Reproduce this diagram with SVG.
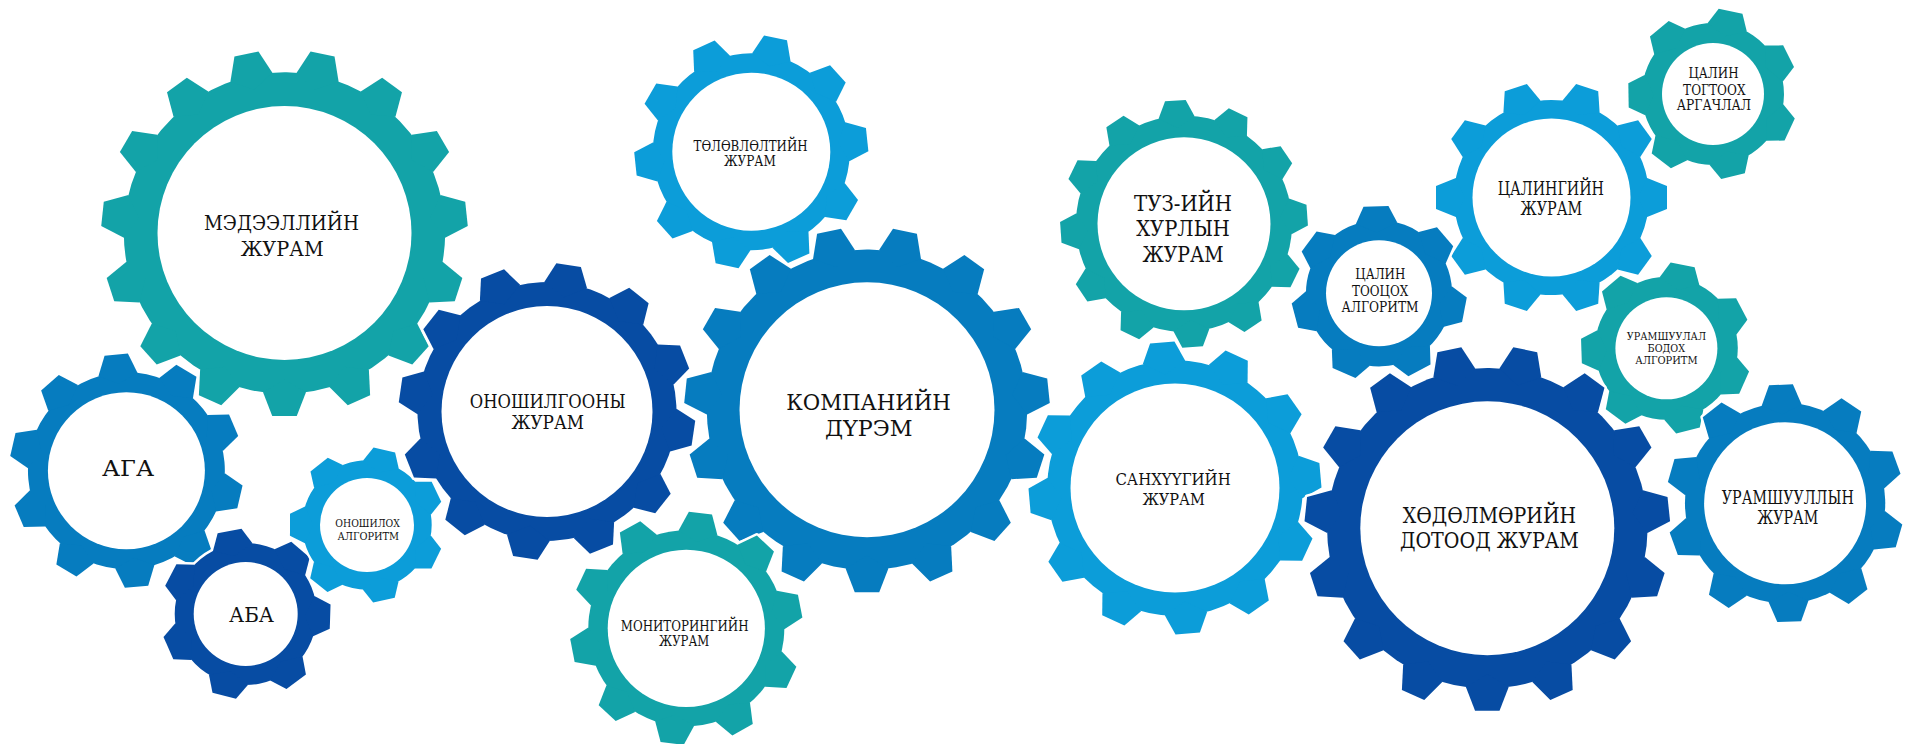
<svg xmlns="http://www.w3.org/2000/svg" xmlns:xlink="http://www.w3.org/1999/xlink" width="1905" height="744" viewBox="0 0 1905 744">
<style>
.halo{fill:#fff;stroke:#fff;stroke-linejoin:round}
.teal{fill:#13a3a8}
.mid{fill:#067cbf}
.dark{fill:#074ca3}
.light{fill:#0c9dd9}
.hole{fill:#fff}
.lbl{font-family:"DejaVu Serif","Liberation Serif",serif;fill:#111}
</style>
<defs>
<polygon id="t15" points="-11.73,-87.01 -6.7,-100 6.7,-100 11.73,-87.01 0,-80"/>
<polygon id="t12" points="-14.6,-86.28 -8.38,-100 8.38,-100 14.6,-86.28 0,-78"/>
<polygon id="t10" points="-16.87,-82.8 -10.05,-100 10.05,-100 16.87,-82.8 0,-75"/>
<polygon id="t7" points="-23.8,-80.56 -14.36,-100 14.36,-100 23.8,-80.56 0,-70"/>
<g id="g15"><circle r="87.8"/>
<use href="#t15"/><use href="#t15" transform="rotate(24)"/><use href="#t15" transform="rotate(48)"/><use href="#t15" transform="rotate(72)"/><use href="#t15" transform="rotate(96)"/><use href="#t15" transform="rotate(120)"/><use href="#t15" transform="rotate(144)"/><use href="#t15" transform="rotate(168)"/><use href="#t15" transform="rotate(192)"/><use href="#t15" transform="rotate(216)"/><use href="#t15" transform="rotate(240)"/><use href="#t15" transform="rotate(264)"/><use href="#t15" transform="rotate(288)"/><use href="#t15" transform="rotate(312)"/><use href="#t15" transform="rotate(336)"/>
</g>
<g id="g12"><circle r="87.5"/>
<use href="#t12"/><use href="#t12" transform="rotate(30)"/><use href="#t12" transform="rotate(60)"/><use href="#t12" transform="rotate(90)"/><use href="#t12" transform="rotate(120)"/><use href="#t12" transform="rotate(150)"/><use href="#t12" transform="rotate(180)"/><use href="#t12" transform="rotate(210)"/><use href="#t12" transform="rotate(240)"/><use href="#t12" transform="rotate(270)"/><use href="#t12" transform="rotate(300)"/><use href="#t12" transform="rotate(330)"/>
</g>
<g id="g10"><circle r="84.5"/>
<use href="#t10"/><use href="#t10" transform="rotate(36)"/><use href="#t10" transform="rotate(72)"/><use href="#t10" transform="rotate(108)"/><use href="#t10" transform="rotate(144)"/><use href="#t10" transform="rotate(180)"/><use href="#t10" transform="rotate(216)"/><use href="#t10" transform="rotate(252)"/><use href="#t10" transform="rotate(288)"/><use href="#t10" transform="rotate(324)"/>
</g>
<g id="g7"><circle r="84"/>
<use href="#t7"/><use href="#t7" transform="rotate(51.43)"/><use href="#t7" transform="rotate(102.86)"/><use href="#t7" transform="rotate(154.29)"/><use href="#t7" transform="rotate(205.71)"/><use href="#t7" transform="rotate(257.14)"/><use href="#t7" transform="rotate(308.57)"/>
</g>
</defs>
<rect width="1905" height="744" fill="#fff"/>
<g id="connectors"/>

<g id="n-medeelliin">
<use href="#g15" class="halo" stroke-width="2.7" transform="translate(284.5,233) rotate(12) scale(1.83)"/>
<use href="#g15" class="teal" transform="translate(284.5,233) rotate(12) scale(1.83)"/>
<circle class="hole" cx="284.5" cy="233" r="127"/>
<text class="lbl" font-size="21" x="204" y="230" textLength="155" lengthAdjust="spacingAndGlyphs">МЭДЭЭЛЛИЙН</text>
<text class="lbl" font-size="21" x="240.7" y="256" textLength="83" lengthAdjust="spacingAndGlyphs">ЖУРАМ</text>
</g>

<g id="n-aga">
<use href="#g10" class="halo" stroke-width="4.3" transform="translate(126.4,470.7) rotate(-5) scale(1.165)"/>
<use href="#g10" class="mid" transform="translate(126.4,470.7) rotate(-5) scale(1.165)"/>
<circle class="hole" cx="126.4" cy="470.7" r="78.5"/>
<text class="lbl" font-size="23" x="102" y="476" textLength="52" lengthAdjust="spacingAndGlyphs">АГА</text>
</g>

<g id="n-aba">
<use href="#g7" class="halo" stroke-width="5.9" transform="translate(245.7,614) rotate(-11) scale(0.845)"/>
<use href="#g7" class="dark" transform="translate(245.7,614) rotate(-11) scale(0.845)"/>
<circle class="hole" cx="245.7" cy="614" r="52"/>
<text class="lbl" font-size="21" x="229" y="622.3" textLength="45" lengthAdjust="spacingAndGlyphs">АБА</text>
</g>

<g id="n-onoshiloh">
<use href="#g7" class="halo" stroke-width="6.5" transform="translate(367,525) rotate(13) scale(0.77)"/>
<use href="#g7" class="light" transform="translate(367,525) rotate(13) scale(0.77)"/>
<circle class="hole" cx="367" cy="525" r="47"/>
<text class="lbl" font-size="11.5" x="335.3" y="527.3" textLength="64.5" lengthAdjust="spacingAndGlyphs">ОНОШИЛОХ</text>
<text class="lbl" font-size="11.5" x="337.4" y="539.7" textLength="61.6" lengthAdjust="spacingAndGlyphs">АЛГОРИТМ</text>
</g>

<g id="n-tolovlolt">
<use href="#g10" class="halo" stroke-width="4.3" transform="translate(751.3,151.8) rotate(12) scale(1.165)"/>
<use href="#g10" class="light" transform="translate(751.3,151.8) rotate(12) scale(1.165)"/>
<circle class="hole" cx="751.3" cy="151.8" r="79"/>
<text class="lbl" font-size="14.6" x="693.5" y="150.7" textLength="114" lengthAdjust="spacingAndGlyphs">ТӨЛӨВЛӨЛТИЙН</text>
<text class="lbl" font-size="14.6" x="723.9" y="165.7" textLength="52" lengthAdjust="spacingAndGlyphs">ЖУРАМ</text>
</g>

<g id="n-onoshilgoo">
<use href="#g12" class="halo" stroke-width="3.4" transform="translate(547,411.5) rotate(8.4) scale(1.48)"/>
<use href="#g12" class="dark" transform="translate(547,411.5) rotate(8.4) scale(1.48)"/>
<circle class="hole" cx="547" cy="411.5" r="105.5"/>
<text class="lbl" font-size="18.3" x="469.8" y="408" textLength="155.8" lengthAdjust="spacingAndGlyphs">ОНОШИЛГООНЫ</text>
<text class="lbl" font-size="18.3" x="511.5" y="429" textLength="72.5" lengthAdjust="spacingAndGlyphs">ЖУРАМ</text>
</g>

<g id="n-kompani">
<use href="#g15" class="halo" stroke-width="2.7" transform="translate(867,409.8) rotate(12) scale(1.825)"/>
<use href="#g15" class="mid" transform="translate(867,409.8) rotate(12) scale(1.825)"/>
<circle class="hole" cx="867" cy="409.8" r="127.5"/>
<text class="lbl" font-size="23" x="786.3" y="409.7" textLength="164.6" lengthAdjust="spacingAndGlyphs">КОМПАНИЙН</text>
<text class="lbl" font-size="23" x="825" y="435.5" textLength="87.5" lengthAdjust="spacingAndGlyphs">ДҮРЭМ</text>
</g>

<g id="n-monitoring">
<use href="#g10" class="halo" stroke-width="4.3" transform="translate(686.3,628.3) rotate(7) scale(1.16)"/>
<use href="#g10" class="teal" transform="translate(686.3,628.3) rotate(7) scale(1.16)"/>
<circle class="hole" cx="686.3" cy="628.3" r="78.6"/>
<text class="lbl" font-size="14.6" x="620.8" y="630.7" textLength="127.7" lengthAdjust="spacingAndGlyphs">МОНИТОРИНГИЙН</text>
<text class="lbl" font-size="14.6" x="659" y="646" textLength="50.3" lengthAdjust="spacingAndGlyphs">ЖУРАМ</text>
</g>

<g id="n-tuz">
<use href="#g12" class="halo" stroke-width="4" transform="translate(1184,223.8) rotate(-4) scale(1.235)"/>
<use href="#g12" class="teal" transform="translate(1184,223.8) rotate(-4) scale(1.235)"/>
<circle class="hole" cx="1184" cy="223.8" r="86.5"/>
<text class="lbl" font-size="21.5" x="1134.1" y="210.7" textLength="97.9" lengthAdjust="spacingAndGlyphs">ТУЗ-ИЙН</text>
<text class="lbl" font-size="21.5" x="1136.2" y="236" textLength="93.7" lengthAdjust="spacingAndGlyphs">ХУРЛЫН</text>
<text class="lbl" font-size="21.5" x="1142.5" y="262.3" textLength="81.2" lengthAdjust="spacingAndGlyphs">ЖУРАМ</text>
</g>

<g id="n-sanhuu">
<use href="#g12" class="halo" stroke-width="3.4" transform="translate(1175,488) rotate(-5) scale(1.46)"/>
<use href="#g12" class="light" transform="translate(1175,488) rotate(-5) scale(1.46)"/>
<circle class="hole" cx="1175" cy="488" r="104.5"/>
<text class="lbl" font-size="17" x="1115.4" y="484.7" textLength="115.3" lengthAdjust="spacingAndGlyphs">САНХҮҮГИЙН</text>
<text class="lbl" font-size="17" x="1142.4" y="504.7" textLength="62.5" lengthAdjust="spacingAndGlyphs">ЖУРАМ</text>
</g>

<g id="n-tsalin-togtooh">
<use href="#g7" class="halo" stroke-width="5.9" transform="translate(1713,94) rotate(12) scale(0.845)"/>
<use href="#g7" class="teal" transform="translate(1713,94) rotate(12) scale(0.845)"/>
<circle class="hole" cx="1713" cy="94" r="51"/>
<text class="lbl" font-size="14" x="1688.5" y="77.5" textLength="50" lengthAdjust="spacingAndGlyphs">ЦАЛИН</text>
<text class="lbl" font-size="14" x="1683.1" y="95" textLength="62.4" lengthAdjust="spacingAndGlyphs">ТОГТООХ</text>
<text class="lbl" font-size="14" x="1676.8" y="110" textLength="74.2" lengthAdjust="spacingAndGlyphs">АРГАЧЛАЛ</text>
</g>

<g id="n-tsalingiin">
<use href="#g10" class="halo" stroke-width="4.3" transform="translate(1551.5,197.5) rotate(18) scale(1.155)"/>
<use href="#g10" class="light" transform="translate(1551.5,197.5) rotate(18) scale(1.155)"/>
<circle class="hole" cx="1551.5" cy="197.5" r="79"/>
<text class="lbl" font-size="18.3" x="1497.7" y="195" textLength="106.2" lengthAdjust="spacingAndGlyphs">ЦАЛИНГИЙН</text>
<text class="lbl" font-size="18.3" x="1520.6" y="215" textLength="61.7" lengthAdjust="spacingAndGlyphs">ЖУРАМ</text>
</g>

<g id="n-tsalin-tootsoh">
<use href="#g7" class="halo" stroke-width="5.7" transform="translate(1379,293.3) rotate(-2) scale(0.87)"/>
<use href="#g7" class="mid" transform="translate(1379,293.3) rotate(-2) scale(0.87)"/>
<circle class="hole" cx="1379" cy="293.3" r="53"/>
<text class="lbl" font-size="14.6" x="1355.3" y="279" textLength="50" lengthAdjust="spacingAndGlyphs">ЦАЛИН</text>
<text class="lbl" font-size="14.6" x="1352" y="295.5" textLength="56.2" lengthAdjust="spacingAndGlyphs">ТООЦОХ</text>
<text class="lbl" font-size="14.6" x="1341.5" y="311.5" textLength="77.1" lengthAdjust="spacingAndGlyphs">АЛГОРИТМ</text>
</g>

<g id="n-uramshuulal-bodoh">
<use href="#g7" class="halo" stroke-width="5.9" transform="translate(1666.4,348.3) rotate(11) scale(0.85)"/>
<use href="#g7" class="teal" transform="translate(1666.4,348.3) rotate(11) scale(0.85)"/>
<circle class="hole" cx="1666.4" cy="348.3" r="51"/>
<text class="lbl" font-size="11.5" x="1626.8" y="340" textLength="79.2" lengthAdjust="spacingAndGlyphs">УРАМШУУЛАЛ</text>
<text class="lbl" font-size="11.5" x="1647.6" y="352" textLength="37.5" lengthAdjust="spacingAndGlyphs">БОДОХ</text>
<text class="lbl" font-size="11.5" x="1635.2" y="364" textLength="62.4" lengthAdjust="spacingAndGlyphs">АЛГОРИТМ</text>
</g>

<g id="n-hodolmor">
<use href="#g15" class="halo" stroke-width="2.7" transform="translate(1487.3,528.2) rotate(12) scale(1.825)"/>
<use href="#g15" class="dark" transform="translate(1487.3,528.2) rotate(12) scale(1.825)"/>
<circle class="hole" cx="1487.3" cy="528.2" r="127"/>
<text class="lbl" font-size="22" x="1402.8" y="523.3" textLength="173.2" lengthAdjust="spacingAndGlyphs">ХӨДӨЛМӨРИЙН</text>
<text class="lbl" font-size="22" x="1399.9" y="547.5" textLength="179" lengthAdjust="spacingAndGlyphs">ДОТООД ЖУРАМ</text>
</g>

<g id="n-uramshuullyn">
<use href="#g10" class="halo" stroke-width="4.2" transform="translate(1785.1,503.2) rotate(-2) scale(1.185)"/>
<use href="#g10" class="mid" transform="translate(1785.1,503.2) rotate(-2) scale(1.185)"/>
<circle class="hole" cx="1785.1" cy="503.2" r="81"/>
<text class="lbl" font-size="18.3" x="1721.8" y="503.5" textLength="132" lengthAdjust="spacingAndGlyphs">УРАМШУУЛЛЫН</text>
<text class="lbl" font-size="18.3" x="1757.2" y="524" textLength="61.2" lengthAdjust="spacingAndGlyphs">ЖУРАМ</text>
</g>
</svg>
